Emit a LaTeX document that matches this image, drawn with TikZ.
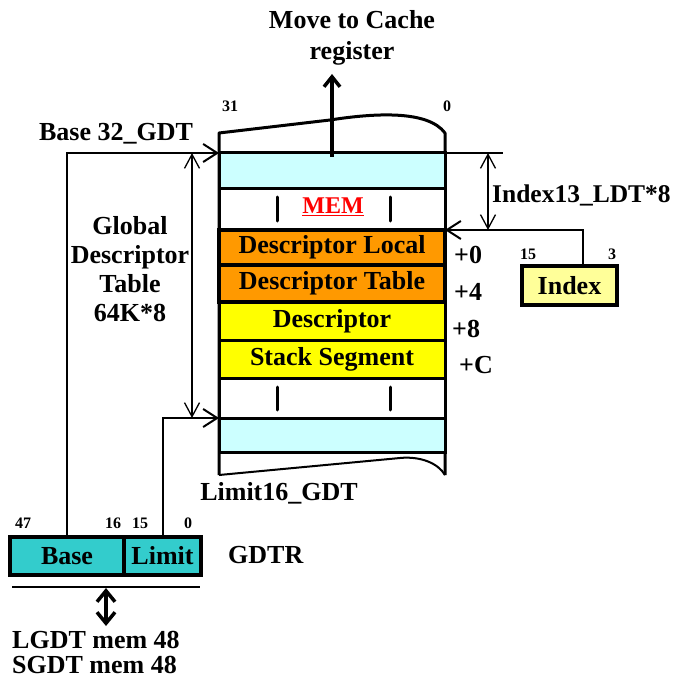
\documentclass[tikz,border=0pt]{standalone}
\usepackage{fontspec}
\setmainfont{Liberation Serif}
\usetikzlibrary{arrows.meta}
\definecolor{lcyan}{HTML}{CCFFFF}
\definecolor{orng}{HTML}{FF9900}
\definecolor{ylw}{HTML}{FFFF00}
\definecolor{lylw}{HTML}{FFFF99}
\definecolor{gcyan}{HTML}{33CCCC}
\begin{document}
\begin{tikzpicture}[x=1pt,y=-1pt,
  font=\fontsize{26}{29}\selectfont\bfseries,
  row/.style={draw, line width=3pt, minimum width=226pt, minimum height=#1, inner sep=0pt, outer sep=0pt},
  orow/.style={row=#1, fill=orng, line width=4.5pt},
  yrow/.style={row=#1, fill=ylw},
  gfield/.style={draw, line width=4pt, fill=gcyan, minimum height=38pt, inner sep=0pt, outer sep=0pt},
  small/.style={font=\fontsize{16}{18}\selectfont\bfseries, inner sep=0pt},
  conn/.style={line width=2pt, -{Straight Barb[length=14pt,width=18pt,line width=2pt]}},
  dim/.style={line width=1.3pt, {Straight Barb[length=14pt,width=15pt,line width=1.3pt]}-{Straight Barb[length=14pt,width=15pt,line width=1.3pt]}},
  bigarrow/.style={line width=4pt, -{Straight Barb[length=10pt,width=16pt,line width=3.5pt]}},
  dblarrow/.style={line width=3.5pt, {Straight Barb[length=11pt,width=18pt,line width=3.5pt]}-{Straight Barb[length=11pt,width=18pt,line width=3.5pt]}},
  tick/.style={line width=3pt, line cap=round},
  lbl/.style={inner sep=0pt}
]
\useasboundingbox (0,0) rectangle (682,687);

% column outline
\draw[line width=3pt, line join=round] (219,475) -- (219,133) -- (330,120) .. controls (375,113) and (428,110) .. (445,133) -- (445,475);
\draw[line width=2pt] (219,475) -- (400,458) .. controls (420,456) and (438,463) .. (445,475);

% rows
\node[row=35pt, fill=lcyan] (cyanA) at (332,170.5) {};
\node[row=42pt, fill=white] (memrow) at (332,209) {};
\node[orow=35pt] (ord1) at (332,247.5) {Descriptor Local};
\node[orow=37pt] (ord2) at (332,283.5) {Descriptor Table};
\node[yrow=38pt] (yl1) at (332,321) {Descriptor};
\node[yrow=38pt] (yl2) at (332,359) {Stack Segment};
\node[row=40pt, fill=white] (blank) at (332,398) {};
\node[row=34pt, fill=lcyan] (cyanB) at (332,435) {};

% ticks
\draw[tick] (277,197) -- (277,221);
\draw[tick] (390,197) -- (390,221);
\draw[tick] (277,387) -- (277,410);
\draw[tick] (390,387) -- (390,410);

\node[text=red, font=\fontsize{24}{26}\selectfont\bfseries, lbl] (mem) at (333,207) {\underline{MEM}};

% bit labels of column
\node[small, anchor=base] (b31) at (230,112) {31};
\node[small, anchor=base] (b0) at (447,112) {0};

% move to cache
\node[lbl, anchor=base] (mv1) at (352,29) {Move to Cache};
\node[lbl, anchor=base] (mv2) at (352,60) {register};
\coordinate (mvtip) at (332,74);
\draw[bigarrow] ([yshift=-4pt]cyanA.north) -- (mvtip);

% offsets
\node[lbl, anchor=base west] (o0) at (454,263) {+0};
\node[lbl, anchor=base west] (o4) at (454,300) {+4};
\node[lbl, anchor=base west] (o8) at (452,337) {+8};
\node[lbl, anchor=base west] (oc) at (459,373) {+C};

% index
\node[draw, line width=4pt, fill=lylw, minimum width=95pt, minimum height=39pt, inner sep=0pt, outer sep=0pt] (idx) at (569.5,285.5) {Index};
\node[small, anchor=base] (i15) at (528,259) {15};
\node[small, anchor=base] (i3) at (612,259) {3};
\draw[conn] ([xshift=13.5pt]idx.north) |- (ord1.north east);
\coordinate (ext) at (503,153);
\draw[line width=1.5pt] (cyanA.north east) -- (cyanA.north east -| ext);
\coordinate (d2) at (488,0);
\draw[dim] (cyanA.north east -| d2) -- (ord1.north east -| d2);
\node[lbl, anchor=base west, font=\fontsize{25.5}{28}\selectfont\bfseries] (ildt) at (492,202) {Index13\_LDT*8};

% GDT labels
\node[lbl, anchor=base] (b32) at (116,141) {Base 32\_GDT};
\node[lbl, anchor=north, align=center] (gdt) at (130,216) {Global\\Descriptor\\Table\\64K*8};
\node[lbl, anchor=base] (l16) at (279,500) {Limit16\_GDT};
\coordinate (d1) at (192,0);
\draw[dim] (cyanA.north west -| d1) -- (cyanB.north west -| d1);

% GDTR
\node[gfield, minimum width=114pt] (gbase) at (67,556) {Base};
\node[gfield, minimum width=77pt] (glim) at (162.5,556) {Limit};
\node[small, anchor=base] (g47) at (23,528) {47};
\node[small, anchor=base] (g16) at (113,528) {16};
\node[small, anchor=base] (g15) at (140,528) {15};
\node[small, anchor=base] (g0) at (188,528) {0};
\node[lbl, anchor=base west] (gdtr) at (228,563) {GDTR};
\draw[conn] (gbase.north) |- (cyanA.north west);
\draw[conn] (glim.north) |- (cyanB.north west);

\coordinate (hl1) at (12,587);
\coordinate (hl2) at (200,587);
\draw[line width=1.5pt] (hl1) -- (hl2);
\coordinate (da) at (106,588);
\coordinate (db) at (106,626);
\draw[dblarrow] (da) -- (db);
\node[lbl, anchor=base west] (lg) at (12,648) {LGDT mem 48};
\node[lbl, anchor=base west] (sg) at (12,673) {SGDT mem 48};
\end{tikzpicture}
\end{document}
